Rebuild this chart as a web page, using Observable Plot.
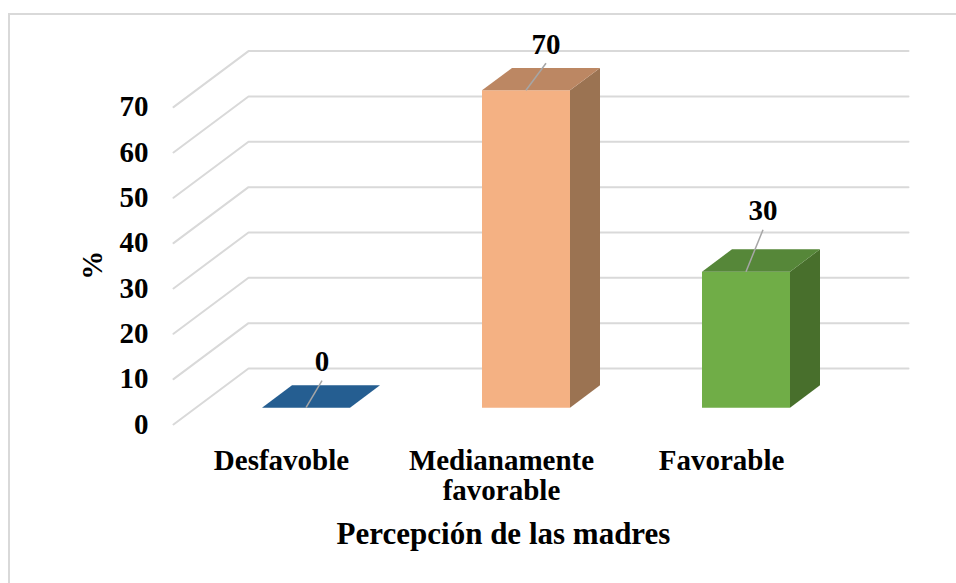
<!DOCTYPE html>
<html>
<head>
<meta charset="utf-8">
<script src="https://cdn.jsdelivr.net/npm/d3@7"></script>
<script src="https://cdn.jsdelivr.net/npm/@observablehq/plot@0.6"></script>
<style>
  html, body { margin: 0; padding: 0; background: #fff; overflow: hidden; }
  #wrap { position: relative; width: 956px; height: 583px; overflow: hidden; }
  #border { position: absolute; left: 8px; top: 13px; width: 1000px; height: 620px; border: 2px solid #d9d9d9; box-sizing: border-box; }
  #chart { position: absolute; left: 0; top: 0; }
</style>
</head>
<body>
<div id="wrap"><div id="border"></div><div id="chart"></div></div>
<script>
// ---- data ----
const categories = ["Desfavoble", "Medianamente\nfavorable", "Favorable"];
const values = [0, 70, 30];
const yTicks = [0, 10, 20, 30, 40, 50, 60, 70];
const frontColors = ["#2e75b6", "#f4b183", "#70ad47"];
const topColors = ["#255e91", "#bc8763", "#568739"];
const sideColors = ["#1f4e79", "#9b7352", "#486f2c"];
const xTitle = "Percepción de las madres";
const yTitle = "%";

// ---- layout / pseudo-3D projection (in data units) ----
const W = 956, H = 583;
const mL = 173, mR = 123, mT = 106.6, mB = 159;
const xDomain = [-0.5, 2.5], yDomain = [0, 70];
const kx = (W - mL - mR) / (xDomain[1] - xDomain[0]); // px per category unit
const ky = (H - mT - mB) / (yDomain[1] - yDomain[0]); // px per value unit
const DX = 75 / kx, DY = 56 / ky;                      // full depth offset
const d1 = 0.3, d2 = 0.7, hw = 0.2;                    // bar depth span and half width
const proj = (c, v, d) => ({x: c + d * DX, y: v + d * DY});

// gridlines: left wall diagonal + back wall horizontal
const grid = yTicks.flatMap(t => [
  {...proj(xDomain[0], t, 0), z: t},
  {...proj(xDomain[0], t, 1), z: t},
  {...proj(xDomain[1], t, 1), z: t}
]);

// bar faces
const faces = [];
values.forEach((v, i) => {
  const c = i;
  faces.push({fill: frontColors[i], pts: [
    proj(c - hw, 0, d1), proj(c + hw, 0, d1), proj(c + hw, v, d1), proj(c - hw, v, d1)]});
  faces.push({fill: sideColors[i], pts: [
    proj(c + hw, 0, d1), proj(c + hw, 0, d2), proj(c + hw, v, d2), proj(c + hw, v, d1)]});
  faces.push({fill: topColors[i], pts: [
    proj(c - hw, v, d1), proj(c + hw, v, d1), proj(c + hw, v, d2), proj(c - hw, v, d2)]});
});

// value labels with leader lines (leader offsets in px)
const leaderPx = [[16, -27], [20, -27], [17, -42]];
const leaders = values.map((v, i) => {
  const p = proj(i, v, d1);
  return {x1: p.x, y1: p.y, x2: p.x + leaderPx[i][0] / kx, y2: p.y - leaderPx[i][1] / ky, label: String(v)};
});

const catRows = categories.map((name, i) => ({x: i, y: 0, name}));

const chart = Plot.plot({
  width: W, height: H,
  marginLeft: mL, marginRight: mR, marginTop: mT, marginBottom: mB,
  style: {fontFamily: "'Liberation Serif', 'Times New Roman', serif", fontWeight: "bold", fontSize: "29px", color: "#000", background: "transparent", overflow: "visible"},
  x: {domain: xDomain, axis: null},
  y: {domain: yDomain, ticks: yTicks, tickSize: 0, tickPadding: 25, label: null},
  marks: [
    Plot.line(grid, {x: "x", y: "y", z: "z", stroke: "#d9d9d9", strokeWidth: 2}),
    ...faces.map(f => Plot.line(f.pts, {x: "x", y: "y", fill: f.fill, stroke: "none"})),
    Plot.link(leaders, {x1: "x1", y1: "y1", x2: "x2", y2: "y2", stroke: "#a6a6a6", strokeWidth: 1.5}),
    Plot.text(leaders, {x: "x2", y: "y2", text: "label", dy: -19, fontSize: 29, fontWeight: "bold", fill: "#000"}),
    Plot.text(catRows, {x: "x", y: "y", text: "name", lineAnchor: "top", dy: 24, dx: -2, lineHeight: 1.04, fontSize: 29, fontWeight: "bold", fill: "#000"}),
    Plot.text([xTitle], {frameAnchor: "bottom", text: d => d, dy: 119, fontSize: 31, fontWeight: "bold", fill: "#000"}),
    Plot.text([yTitle], {frameAnchor: "left", text: d => d, dx: -81, dy: 14, rotate: -90, fontSize: 29, fontWeight: "bold", fill: "#000"})
  ]
});
document.getElementById("chart").appendChild(chart);
</script>
</body>
</html>
